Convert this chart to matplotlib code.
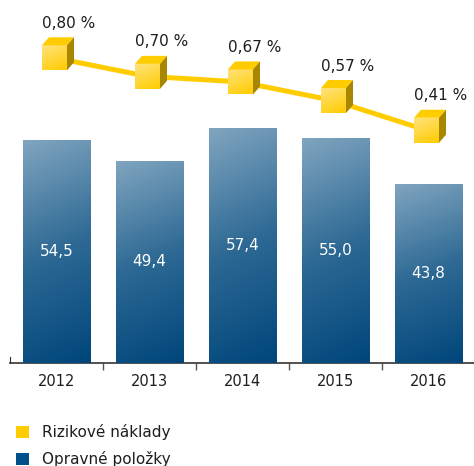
import matplotlib
matplotlib.use('Agg')
import matplotlib.pyplot as plt
import numpy as np
from matplotlib.colors import LinearSegmentedColormap
from matplotlib.patches import Patch, Polygon
from matplotlib.transforms import ScaledTranslation

years = ['2012', '2013', '2014', '2015', '2016']
opravne = [54.5, 49.4, 57.4, 55.0, 43.8]
rizikove = [0.80, 0.70, 0.67, 0.57, 0.41]
opravne_labels = ['54,5', '49,4', '57,4', '55,0', '43,8']
rizikove_labels = ['0,80 %', '0,70 %', '0,67 %', '0,57 %', '0,41 %']

yellow = '#ffcc00'
blue = '#00508a'
text_col = '#1e1e1e'

fig = plt.figure(figsize=(4.74, 4.66), dpi=100)
ax = fig.add_axes([10 / 474, 103 / 466, 465 / 474, 363 / 466])
x = np.arange(len(years))

# bars with a vertical gradient
bar_cmap = LinearSegmentedColormap.from_list('bars', ['#00467b', '#2d6994', '#80a5bf'])
bars = ax.bar(x, opravne, width=0.73, color='#3a719a', zorder=2)
vert = np.linspace(0, 1, 200)[:, None]
horiz = np.linspace(1, 0, 50)[None, :]
grad = 0.88 * vert + 0.12 * horiz
for b in bars:
    x0, w, h = b.get_x(), b.get_width(), b.get_height()
    im = ax.imshow(grad, extent=[x0, x0 + w, 0, h], origin='lower', aspect='auto',
                   cmap=bar_cmap, vmin=0, vmax=1, zorder=3)
    im.set_clip_path(b)

for xi, v, lab in zip(x, opravne, opravne_labels):
    ax.text(xi, v / 2, lab, color='white', ha='center', va='center', fontsize=11, zorder=4)

ax.set_xlim(-0.5, 4.5)
ax.set_ylim(0, 88.75)
ax.set_xticks(x)
ax.set_xticklabels(years, fontsize=10.5, color=text_col)
ax.set_xticks([0.5, 1.5, 2.5, 3.5], minor=True)
ax.tick_params(axis='x', which='major', length=0, pad=8)
ax.tick_params(axis='x', which='minor', length=5, width=1, color='#555555')
ax.set_yticks([])
for s in ['top', 'right']:
    ax.spines[s].set_visible(False)
ax.spines['left'].set_bounds(0, 1.5)
ax.spines['left'].set_color('#333333')
ax.spines['bottom'].set_color('#333333')
ax.spines['bottom'].set_linewidth(1.2)

# risk costs on a secondary axis
ax2 = ax.twinx()
ax2.set_ylim(-0.843, 1.111)
ax2.set_xlim(-0.5, 4.5)
ax2.axis('off')
xs = x - 2 / 93.0
ax2.plot(xs, rizikove, color=yellow, lw=3.6, solid_capstyle='butt', zorder=1)

cube_cmap = LinearSegmentedColormap.from_list('cube', ['#ffcc00', '#ffe27a'])
front = np.array([[-12.5, -12.5], [12.5, -12.5], [12.5, 12.5], [-12.5, 12.5]]) / 100
top = np.array([[-12.5, 12.5], [12.5, 12.5], [19.5, 20.5], [-5.5, 20.5]]) / 100
side = np.array([[12.5, -12.5], [19.5, -4.5], [19.5, 20.5], [12.5, 12.5]]) / 100
cube_grad = 0.7 * np.linspace(0, 1, 40)[:, None] + 0.3 * np.linspace(1, 0, 40)[None, :]
for xi, v, lab in zip(xs, rizikove, rizikove_labels):
    tr = fig.dpi_scale_trans + ScaledTranslation(xi, v, ax2.transData)
    fp = Polygon(front, closed=True, transform=tr, facecolor='#ffd84a', edgecolor='none', zorder=3)
    ax2.add_patch(fp)
    im = ax2.imshow(cube_grad, extent=[-0.125, 0.125, -0.125, 0.125], origin='lower',
                    cmap=cube_cmap, vmin=0, vmax=1, transform=tr, zorder=4)
    im.set_clip_path(fp)
    ax2.add_patch(Polygon(top, closed=True, transform=tr, facecolor='#ffcc00', edgecolor='none', zorder=4))
    ax2.add_patch(Polygon(side, closed=True, transform=tr, facecolor='#a98600', edgecolor='none', zorder=4))
    ax2.annotate(lab, xy=(xi, v), xytext=(-12.5, 30), textcoords='offset pixels',
                 ha='left', va='baseline', fontsize=11, color=text_col)
ax2.set_xlim(-0.5, 4.5)
ax2.set_ylim(-0.843, 1.111)
ax2.set_aspect('auto')

handles = [Patch(facecolor=yellow, label='Rizikové náklady'),
           Patch(facecolor=blue, label='Opravné položky')]
fig.legend(handles=handles, loc='upper left', bbox_to_anchor=(16 / 474, 1 - 424 / 466),
           frameon=False, fontsize=11, handlelength=0.85, handleheight=0.85,
           handletextpad=0.85, labelspacing=0.75, borderpad=0, borderaxespad=0,
           labelcolor=text_col)

fig.savefig('out.png', dpi=100)
